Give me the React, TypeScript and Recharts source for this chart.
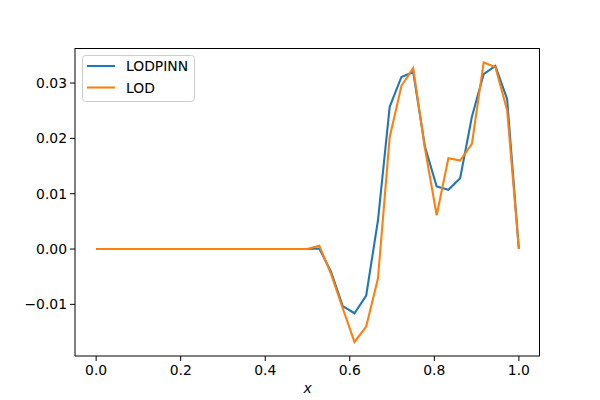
import React from 'react';
import { LineChart, Line, XAxis, YAxis } from 'recharts';

const xValues = [
  0, 0.0278, 0.0556, 0.0833, 0.1111, 0.1389, 0.1667, 0.1944, 0.2222, 0.25,
  0.2778, 0.3056, 0.3333, 0.3611, 0.3889, 0.4167, 0.4444, 0.4722, 0.5, 0.5278,
  0.5556, 0.5833, 0.6111, 0.6389, 0.6667, 0.6944, 0.7222, 0.75, 0.7778, 0.8056,
  0.8333, 0.8611, 0.8889, 0.9167, 0.9444, 0.9722, 1.0,
];

const lodpinn = [
  0, 0, 0, 0, 0, 0, 0, 0, 0, 0,
  0, 0, 0, 0, 0, 0, 0, 0, 0, 0.0001,
  -0.0041, -0.0103, -0.0116, -0.0084, 0.0052, 0.0257, 0.0311, 0.032, 0.0185, 0.0113,
  0.0107, 0.0128, 0.0239, 0.0316, 0.0331, 0.0271, 0,
];

const lod = [
  0, 0, 0, 0, 0, 0, 0, 0, 0, 0,
  0, 0, 0, 0, 0, 0, 0, 0, 0, 0.0006,
  -0.0045, -0.0107, -0.0168, -0.014, -0.0053, 0.0202, 0.0295, 0.0327, 0.0182, 0.0061,
  0.0164, 0.016, 0.019, 0.0337, 0.0329, 0.0251, 0,
];

const xTicks = [0, 0.2, 0.4, 0.6, 0.8, 1.0];
const yTicks = [-0.01, 0, 0.01, 0.02, 0.03];
const seriesNames = ['LODPINN', 'LOD'];
const colors = ['#1f77b4', '#ff7f0e'];

const data = xValues.map((x, i) => ({ x, a: lodpinn[i], b: lod[i] }));

const FONT = 'DejaVu Sans';
const tickStyle = { fontFamily: FONT, fontSize: 13.9, fill: '#000' };

const LegendBox = () => (
  <svg width={114} height={48} style={{ display: 'block' }}>
    <rect x={0.5} y={0.5} width={112} height={46} rx={3} ry={3} fill="#fff" fillOpacity={0.8} stroke="#cccccc" strokeWidth={1} />
    {seriesNames.map((n, i) => (
      <g key={n}>
        <line x1={5} x2={33} y1={11 + i * 21.5} y2={11 + i * 21.5} stroke={colors[i]} strokeWidth={2.08} />
        <text x={44} y={16 + i * 21.5} fontFamily={FONT} fontSize={13.9} fill="#000">{n}</text>
      </g>
    ))}
  </svg>
);

export default function App() {
  return (
    <div style={{ position: 'absolute', left: 0, top: 0, width: 600, height: 400, background: '#fff' }}>
      <LineChart width={600} height={400} data={data} margin={{ top: 48, right: 60, bottom: 14, left: 15 }}>
        <XAxis
          dataKey="x"
          type="number"
          domain={[-0.05, 1.05]}
          ticks={xTicks}
          allowDataOverflow
          tickFormatter={(v: number) => v.toFixed(1)}
          tick={tickStyle}
          tickSize={5}
          tickMargin={4}
          stroke="#000"
          height={30}
          label={{ value: 'x', position: 'bottom', offset: -3, style: { fontFamily: FONT, fontSize: 13.9, fontStyle: 'italic', fill: '#000' } }}
        />
        <YAxis
          type="number"
          domain={[-0.01933, 0.03633]}
          ticks={yTicks}
          allowDataOverflow
          tickFormatter={(v: number) => (v < 0 ? '\u2212' + Math.abs(v).toFixed(2) : v.toFixed(2))}
          tick={tickStyle}
          tickSize={5}
          tickMargin={3}
          stroke="#000"
          width={60}
        />
        <Line type="linear" dataKey="a" stroke={colors[0]} strokeWidth={2.08} dot={false} isAnimationActive={false} name={seriesNames[0]} />
        <Line type="linear" dataKey="b" stroke={colors[1]} strokeWidth={2.08} dot={false} isAnimationActive={false} name={seriesNames[1]} />
      </LineChart>
      <div style={{ position: 'absolute', left: 75, top: 48, width: 465, height: 308, borderTop: '1px solid #000', borderRight: '1px solid #000', boxSizing: 'border-box', pointerEvents: 'none' }} />
      <div style={{ position: 'absolute', left: 82, top: 55 }}>
        <LegendBox />
      </div>
    </div>
  );
}
